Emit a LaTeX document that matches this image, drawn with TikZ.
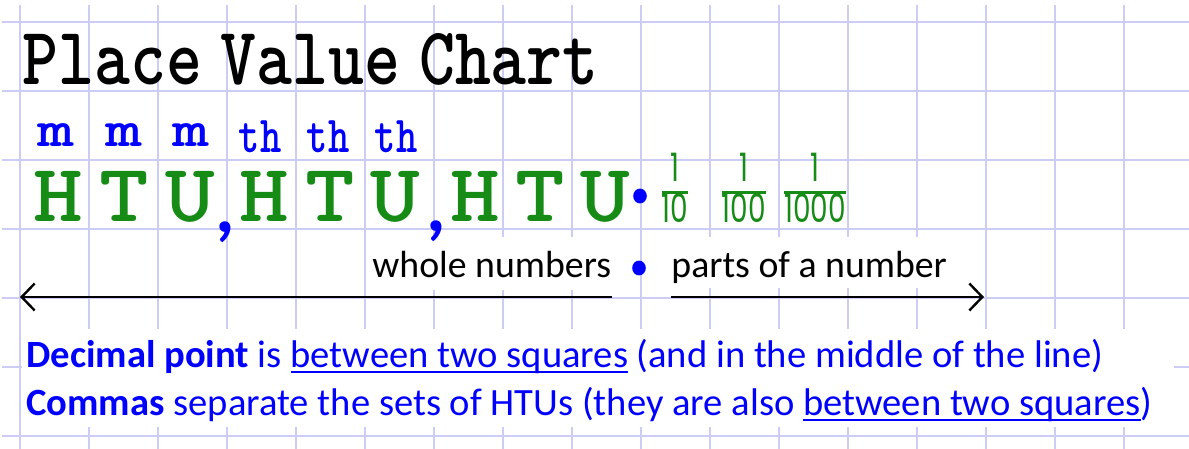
\documentclass[tikz,border=0pt]{standalone}
\usepackage{xcolor}
\usepackage{fontspec}
\usepackage{tikz}
\usetikzlibrary{arrows.meta, shapes.geometric}

\setmainfont{Carlito}
\newfontfamily\fracfont{Poppins}

\definecolor{gridlilac}{RGB}{204,204,245}
\definecolor{htugreen}{RGB}{22,140,22}
\definecolor{penblue}{RGB}{0,0,255}

\newsavebox{\ulinebox}
\newcommand{\uln}[1]{\sbox{\ulinebox}{#1}\rlap{\rule[-3pt]{\wd\ulinebox}{1pt}}\usebox{\ulinebox}}
\newcommand{\typeface}{\ttfamily\bfseries}
\newcommand{\wide}[1]{\scalebox{1.15}[1]{#1}}
\newcommand{\tall}[1]{\scalebox{1}[1.4]{#1}}
\newcommand{\frc}[2]{{\setlength\arrayrulewidth{1.4pt}\begin{tabular}{@{}c@{}}\tall{#1}\\\hline\rule{0pt}{13.5pt}\tall{#2}\end{tabular}}}

\begin{document}
\begin{tikzpicture}[x=0.5pt, y=-0.5pt,
    gridline/.style={draw=gridlilac, line width=0.8pt},
    letter/.style={anchor=base, inner sep=0pt, text=htugreen, font=\fontsize{41}{41}\typeface},
    place/.style={anchor=base, inner sep=0pt, text=penblue, font=\fontsize{26}{26}\typeface},
    fracmark/.style={inner sep=0pt, text=htugreen, font=\fontsize{14}{17}\fracfont},
    commamark/.style={inner sep=0pt, text=penblue, font=\fontsize{38}{38}\bfseries},
    dotmark/.style={ellipse, fill=penblue, inner sep=0pt, minimum width=6.8pt, minimum height=7.4pt},
    label/.style={anchor=base west, inner sep=0pt, font=\fontsize{18.9}{22}\selectfont},
    rule/.style={label, text=penblue, font=\fontsize{19.3}{22}\selectfont},
    arrowline/.style={-{Straight Barb[length=6.5pt, width=13.5pt]}, line width=1.2pt}]

    \useasboundingbox (0,0) rectangle (1189,449);
    \fill[white] (0,0) rectangle (1189,449);

    % squared paper
    \draw[gridline, shift={(20,22)}, step=34.5pt] (-18,427) grid (1169,-17);
    \fill[white] (370,237) rectangle (615,290);
    \fill[white] (655,237) rectangle (960,288);
    \fill[white] (22,329) rectangle (1174,427);

    \node[anchor=base west, inner sep=0pt, font=\fontsize{34.2}{35}\typeface] at (22,85) (title) {\scalebox{1}[1.2]{Place\hspace{-0.25em} Value\hspace{-0.25em} Chart}};

    % millions and thousands
    \node[place] at (56,147) (m1) {\scalebox{1.35}[1]{m}};
    \node[place] at (124,147) (m2) {\scalebox{1.35}[1]{m}};
    \node[place] at (191,147) (m3) {\scalebox{1.35}[1]{m}};
    \node[place] at (260,153) (th1) {\scalebox{0.78}[1]{th}};
    \node[place] at (328,153) (th2) {\scalebox{0.78}[1]{th}};
    \node[place] at (396,153) (th3) {\scalebox{0.78}[1]{th}};

    % hundreds, tens, units
    \node[letter] at (58,221) (h1) {\wide{H}};
    \node[letter] at (124,221) (t1) {\wide{T}};
    \node[letter] at (190,221) (u1) {\wide{U}};
    \node[letter] at (264,221) (h2) {\wide{H}};
    \node[letter] at (330,221) (t2) {\wide{T}};
    \node[letter] at (395,221) (u2) {\wide{U}};
    \node[letter] at (475,221) (h3) {\wide{H}};
    \node[letter] at (540,221) (t3) {\wide{T}};
    \node[letter] at (605,221) (u3) {\wide{U}};

    \node[commamark] at (225,232) (comma1) {,};
    \node[commamark] at (436,231) (comma2) {,};
    \node[dotmark] at (640,196) (point) {};

    % parts
    \node[fracmark] at (675,193) (tenth) {\frc{1}{10}};
    \node[fracmark] at (744,193) (hundredth) {\frc{1}{100}};
    \node[fracmark] at (815,193) (thousandth) {\frc{1}{1000}};

    % whole numbers . parts of a number
    \node[label] at (372,277) (whole) {whole numbers};
    \node[dotmark] at (639,268) (midpoint) {};
    \node[label] at (671,277) (parts) {parts of a number};
    \coordinate (leftend) at (20,297);
    \coordinate (rightend) at (984,297);
    \draw[arrowline] (whole.east |- leftend) -- (leftend);
    \draw[arrowline] (parts.west |- rightend) -- (rightend);

    % rules
    \node[rule] at (26,367) (rule1) {\textbf{Decimal point} is \uln{between two squares} (and in the middle of the line)};
    \node[rule] at (26,415) (rule2) {\textbf{Commas} separate the sets of HTUs (they are also \uln{between two squares})};
\end{tikzpicture}
\end{document}
